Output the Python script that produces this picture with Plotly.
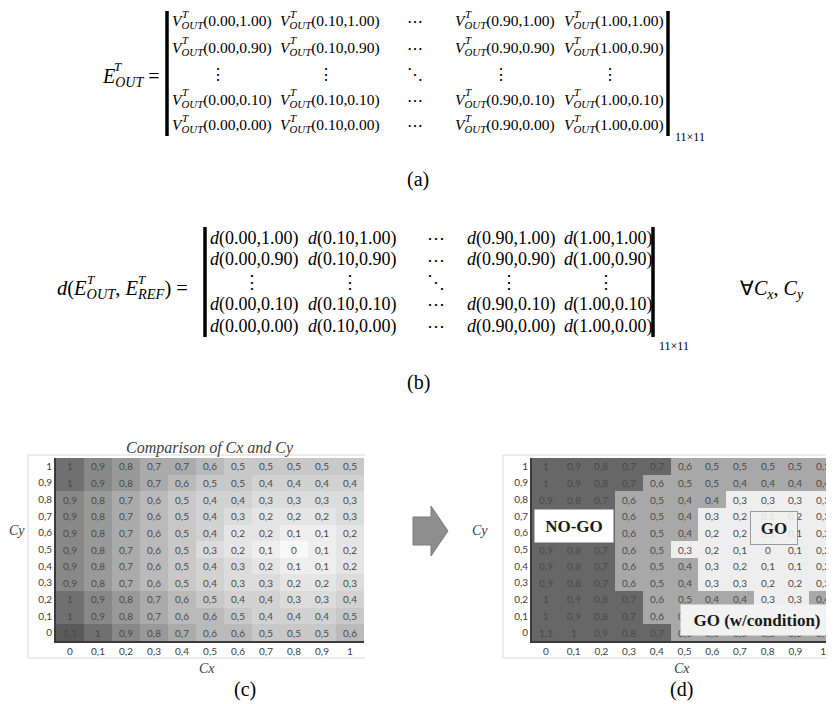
import plotly.graph_objects as go

# ---------------- data ----------------
CX_LABELS = ["0", "0,1", "0,2", "0,3", "0,4", "0,5", "0,6", "0,7", "0,8", "0,9", "1"]
CY_LABELS = ["0", "0,1", "0,2", "0,3", "0,4", "0,5", "0,6", "0,7", "0,8", "0,9", "1"]

# rows listed from Cy = 1 (top) down to Cy = 0 (bottom); columns Cx = 0 .. 1
D_ROWS_TOP_DOWN = [
    [1.0, 0.9, 0.8, 0.7, 0.7, 0.6, 0.5, 0.5, 0.5, 0.5, 0.5],
    [1.0, 0.9, 0.8, 0.7, 0.6, 0.5, 0.5, 0.4, 0.4, 0.4, 0.4],
    [0.9, 0.8, 0.7, 0.6, 0.5, 0.4, 0.4, 0.3, 0.3, 0.3, 0.3],
    [0.9, 0.8, 0.7, 0.6, 0.5, 0.4, 0.3, 0.2, 0.2, 0.2, 0.3],
    [0.9, 0.8, 0.7, 0.6, 0.5, 0.4, 0.2, 0.2, 0.1, 0.1, 0.2],
    [0.9, 0.8, 0.7, 0.6, 0.5, 0.3, 0.2, 0.1, 0.0, 0.1, 0.2],
    [0.9, 0.8, 0.7, 0.6, 0.5, 0.4, 0.3, 0.2, 0.1, 0.1, 0.2],
    [0.9, 0.8, 0.7, 0.6, 0.5, 0.4, 0.3, 0.3, 0.2, 0.2, 0.3],
    [1.0, 0.9, 0.8, 0.7, 0.6, 0.5, 0.4, 0.4, 0.3, 0.3, 0.4],
    [1.0, 0.9, 0.8, 0.7, 0.6, 0.6, 0.5, 0.4, 0.4, 0.4, 0.5],
    [1.1, 1.0, 0.9, 0.8, 0.7, 0.6, 0.6, 0.5, 0.5, 0.5, 0.6],
]
NOGO_MIN = 0.7      # d >= 0.7 -> NO-GO
COND_MIN = 0.4      # 0.4 <= d < 0.7 -> GO (w/condition); below -> GO

# matrix notation labels
A_COLS = ["0.00", "0.10", None, "0.90", "1.00"]
A_ROWS = ["1.00", "0.90", None, "0.10", "0.00"]

# ---------------- helpers ----------------
PAGE_W, PAGE_H = 834, 704
OFF = 8                      # default page body margin
W, H = PAGE_W - OFF, PAGE_H - OFF
SERIF = "Liberation Serif"
SANS = "Lato"


def px(x):
    return (x - OFF) / W


def py(y):
    return 1 - (y - OFF) / H


annotations = []
shapes = []


def txt(x, y, s, size=16, anchor="left", family=SERIF, color="black", **kw):
    annotations.append(dict(x=px(x), y=py(y), xref="paper", yref="paper", text=s,
                            showarrow=False, xanchor=anchor, yanchor="middle",
                            font=dict(family=family, size=size, color=color), **kw))


def line(x0, y0, x1, y1, color="black", width=1):
    shapes.append(dict(type="line", xref="paper", yref="paper", x0=px(x0), y0=py(y0),
                       x1=px(x1), y1=py(y1), line=dict(color=color, width=width)))


def fmt(v):
    s = ("%.1f" % v).rstrip("0").rstrip(".")
    return s.replace(".", ",")


z_bottom_up = D_ROWS_TOP_DOWN[::-1]
text_bottom_up = [[fmt(v) for v in row] for row in z_bottom_up]
zone_bottom_up = [[2 if round(v * 10) >= round(NOGO_MIN * 10) else (1 if round(v * 10) >= round(COND_MIN * 10) else 0)
                   for v in row] for row in z_bottom_up]


# ---------------- matrix equations ----------------
def matrix(col_lefts, half_w, dots_x, row_ys, cell_fmt, sup_dx, sup_dy, bracket, size):
    for r, cy in enumerate(A_ROWS):
        for c, cx in enumerate(A_COLS):
            y = row_ys[r]
            if cx is None and cy is None:
                txt(dots_x, y, "⋱", size=size, anchor="center")
            elif cx is None:
                txt(dots_x, y, "⋯", size=size, anchor="center")
            elif cy is None:
                txt(col_lefts[c] + half_w, y, "⋮", size=size, anchor="center")
            else:
                txt(col_lefts[c], y, cell_fmt % (cx, cy), size=size)
                if sup_dx:
                    txt(col_lefts[c] + sup_dx, y - sup_dy, "<i>T</i>", size=11)
    x0, x1, y0, y1 = bracket
    line(x0, y0, x0, y1, width=3.5)
    line(x1, y0, x1, y1, width=3.5)


# (a)
matrix([170, 278, None, 453, 562], 48, 415, [22, 48, 74, 100, 126],
       "<i>V</i><sub><i>OUT</i></sub>(%s,%s)", 9.5, 8, (167, 668, 11, 136), 15.5)
txt(100, 77, "<i>E</i><sub><i>OUT</i></sub> =", size=20)
txt(112, 67, "<i>T</i>", size=13)
txt(673, 137, "11×11", size=12)
txt(418, 180, "(a)", size=20, anchor="center")

# (b)
matrix([208, 306, None, 465, 562], 44, 436, [238, 260, 282, 304, 326],
       "<i>d</i>(%s,%s)", 0, 0, (205, 653, 227, 337), 18)
txt(55, 289, "<i>d</i>(<i>E</i><sub><i>OUT</i></sub>, <i>E</i><sub><i>REF</i></sub>) =", size=20.5)
txt(85, 279, "<i>T</i>", size=13)
txt(136, 279, "<i>T</i>", size=13)
txt(657, 346, "11×11", size=12)
txt(738, 289, "∀<i>C</i><sub><i>x</i></sub>, <i>C</i><sub><i>y</i></sub>", size=20)
txt(418, 382, "(b)", size=20, anchor="center")

# ---------------- heatmaps ----------------
fig = go.Figure()
fig.add_trace(go.Heatmap(
    z=z_bottom_up, x=CX_LABELS, y=CY_LABELS, text=text_bottom_up, texttemplate="%{text}",
    textfont=dict(family=SANS, size=10, color="#4a4a4a"),
    colorscale=[[0, "#f9f9f9"], [0.091, "#eeeeee"], [0.273, "#dcdcdc"], [0.455, "#c8c8c8"],
                [0.636, "#ababab"], [0.818, "#888888"], [0.909, "#707070"], [1, "#5a5a5a"]],
    zmin=0, zmax=1.1, showscale=False, xaxis="x", yaxis="y", hoverinfo="skip"))

fig.add_trace(go.Heatmap(
    z=zone_bottom_up, x=CX_LABELS, y=CY_LABELS, text=text_bottom_up, texttemplate="%{text}",
    textfont=dict(family=SANS, size=10, color="#4a4a4a"),
    colorscale=[[0, "#eeeeee"], [0.3333, "#eeeeee"], [0.3333, "#a8a8a8"], [0.6667, "#a8a8a8"],
                [0.6667, "#676767"], [1, "#676767"]],
    zmin=-0.5, zmax=2.5, showscale=False, xaxis="x2", yaxis="y2", hoverinfo="skip"))

HM_TOP, HM_BOT = 458, 641
ydom = [py(HM_BOT), py(HM_TOP)]
ax_common = dict(type="category", showgrid=False, zeroline=False, ticks="",
                 tickfont=dict(family=SANS, size=10, color="#404040"),
                 showline=True, linecolor="#3a3a3a", linewidth=2, fixedrange=True)

# chart frames
FR_TOP, FR_BOT = 455, 658
line(28, FR_TOP, 365, FR_TOP, color="#d9d9d9")
line(28, FR_TOP, 28, FR_BOT, color="#d9d9d9")
line(28, FR_BOT, 365, FR_BOT, color="#d9d9d9")
line(503, FR_TOP, 834, FR_TOP, color="#d9d9d9")
line(503, FR_TOP, 503, FR_BOT, color="#d9d9d9")
line(503, FR_BOT, 834, FR_BOT, color="#d9d9d9")

txt(210, 448, "<i>Comparison of Cx and Cy</i>", size=16, anchor="center", color="#404040")
txt(207, 668, "<i>Cx</i>", size=14, anchor="center", color="#404040")
txt(17, 530, "<i>Cy</i>", size=14, anchor="center", color="#404040")
txt(245, 689, "(c)", size=20, anchor="center")

txt(682, 668, "<i>Cx</i>", size=14, anchor="center", color="#404040")
txt(480, 530, "<i>Cy</i>", size=14, anchor="center", color="#404040")
txt(681, 689, "(d)", size=20, anchor="center")

# zone labels
annotations.append(dict(x=px(574), y=py(526), xref="paper", yref="paper", text="<b>NO-GO</b>",
                        showarrow=False, xanchor="center", yanchor="middle", width=76, height=30,
                        bgcolor="white", font=dict(family=SERIF, size=17, color="#1a1a1a")))
annotations.append(dict(x=px(774), y=py(528), xref="paper", yref="paper", text="<b>GO</b>",
                        showarrow=False, xanchor="center", yanchor="middle", width=44, height=30,
                        bgcolor="rgba(240,240,240,0.9)", bordercolor="#9a9a9a", borderwidth=1,
                        font=dict(family=SERIF, size=17, color="#1a1a1a")))
annotations.append(dict(x=px(757), y=py(620), xref="paper", yref="paper",
                        text="<b>GO (w/condition)</b>", showarrow=False, xanchor="center",
                        yanchor="middle", width=150, height=28, bgcolor="#f2f2f2",
                        font=dict(family=SERIF, size=17, color="#1a1a1a")))

# arrow
pts = [(413, 517), (431, 517), (431, 506), (448, 531), (431, 556), (431, 545), (413, 545)]
path = "M " + " L ".join("%.5f,%.5f" % (px(a), py(b)) for a, b in pts) + " Z"
shapes.append(dict(type="path", xref="paper", yref="paper", path=path,
                   fillcolor="#8e8e8e", line=dict(color="#7e7e7e", width=1)))

fig.update_layout(
    width=W, height=H, autosize=False, margin=dict(l=0, r=0, t=0, b=0),
    paper_bgcolor="white", plot_bgcolor="white", showlegend=False,
    xaxis=dict(domain=[px(56), px(364)], range=[-0.5, 10.5], anchor="y", **ax_common),
    yaxis=dict(domain=ydom, range=[-0.5, 10.5], anchor="x", **ax_common),
    xaxis2=dict(domain=[px(532), 1.0], range=[-0.5, 10.39], anchor="y2", **ax_common),
    yaxis2=dict(domain=ydom, range=[-0.5, 10.5], anchor="x2", **ax_common),
    annotations=annotations, shapes=shapes,
)

fig.write_html("out.html")
